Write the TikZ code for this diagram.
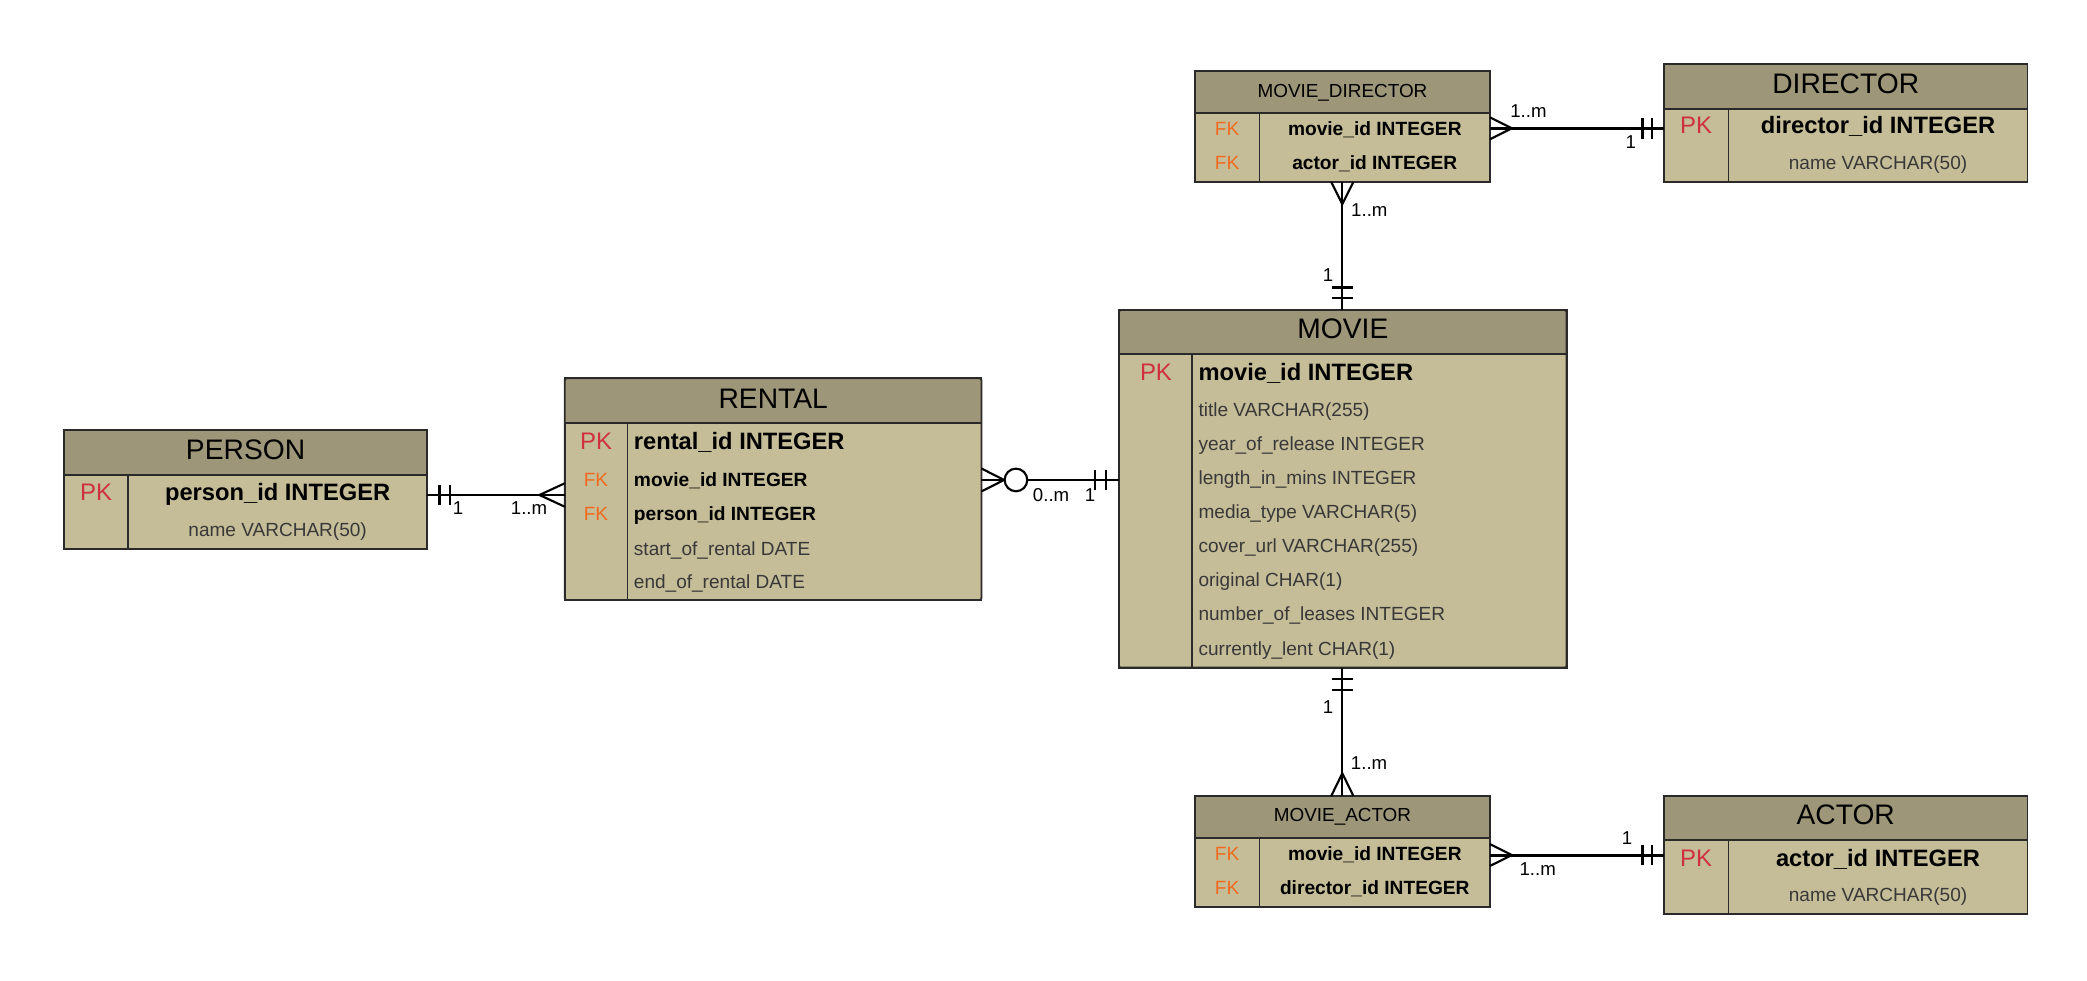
\documentclass[tikz,border=0pt]{standalone}
\usepackage{fontspec}
\setmainfont{Liberation Sans}
\usetikzlibrary{calc}
\definecolor{headc}{HTML}{9E9678}
\definecolor{bodyc}{HTML}{C5BC98}
\definecolor{bordc}{HTML}{2A2A2A}
\definecolor{pkc}{HTML}{D0303E}
\definecolor{fkc}{HTML}{F06A1E}
\definecolor{attc}{HTML}{383838}
\tikzset{
  tbl/.style={draw=bordc, fill=bodyc, line width=1.4pt, inner sep=0pt, outer sep=0pt, anchor=north west},
  bline/.style={draw=bordc, line width=1.4pt},
  ttl/.style={font=\fontsize{21.2}{25}\selectfont, text=black, anchor=base, inner sep=0pt},
  sttl/.style={font=\fontsize{14.2}{17}\selectfont, text=black, anchor=base, inner sep=0pt},
  pk/.style={font=\fontsize{18}{21}\selectfont, text=pkc, anchor=base, inner sep=0pt},
  fk/.style={font=\fontsize{14.4}{17}\selectfont, text=fkc, anchor=base, inner sep=0pt},
  pkrow/.style={font=\fontsize{17.8}{21}\selectfont\bfseries, text=black, inner sep=0pt},
  fkrow/.style={font=\fontsize{14.4}{17}\selectfont\bfseries, text=black, inner sep=0pt},
  att/.style={font=\fontsize{14.3}{17}\selectfont, text=attc, inner sep=0pt},
  card/.style={font=\fontsize{14}{17}\selectfont, text=black, anchor=base, inner sep=0pt},
  conn/.style={draw=black, line width=1.6pt},
  tconn/.style={draw=black, line width=2.3pt},
}
\begin{document}
\begin{tikzpicture}[x=1pt, y=-1pt]
\useasboundingbox[fill=white] (0,0) rectangle (1568,736.3);

% ---------- PERSON ----------
\node[tbl, minimum width=272.7pt, minimum height=89.5pt] (person) at (48.2,323) {};
\fill[headc] (person.north west) rectangle ($(person.north east)+(0,33.9)$);
\draw[bline] ($(person.north west)+(0,33.9)$) -- ($(person.north east)+(0,33.9)$);
\draw[bline] (96.3,356.9) -- (96.3,412.5);
\draw[bline] (person.north west) rectangle (person.south east);
\node[ttl] (personT) at (184.5,345.6) {PERSON};
\node[pk] (personK) at (72.2,375.8) {PK};
\node[pkrow, anchor=base] (personA1) at (208.6,375.8) {person\_id INTEGER};
\node[att, anchor=base] (personA2) at (208.6,403.3) {name VARCHAR(50)};

% ---------- RENTAL ----------
\node[tbl, minimum width=313.1pt, minimum height=166.6pt] (rental) at (424.3,284.2) {};
\fill[headc] (rental.north west) rectangle ($(rental.north east)+(0,33.8)$);
\draw[bline] ($(rental.north west)+(0,33.8)$) -- ($(rental.north east)+(0,33.8)$);
\draw[bline] (471.4,318) -- (471.4,450.8);
\draw[bline, rounded corners=1.5pt] (rental.north west) rectangle (rental.south east);
\node[ttl] (rentalT) at (580.9,306.8) {RENTAL};
\node[pk] (rentalK1) at (447.8,337.5) {PK};
\node[fk] (rentalK2) at (447.8,365.3) {FK};
\node[fk] (rentalK3) at (447.8,390.9) {FK};
\node[pkrow, anchor=base west] (rentalA1) at (476.1,337.5) {rental\_id INTEGER};
\node[fkrow, anchor=base west] (rentalA2) at (476.1,365.3) {movie\_id INTEGER};
\node[fkrow, anchor=base west] (rentalA3) at (476.1,390.9) {person\_id INTEGER};
\node[att, anchor=base west] (rentalA4) at (476.1,417.1) {start\_of\_rental DATE};
\node[att, anchor=base west] (rentalA5) at (476.1,442.4) {end\_of\_rental DATE};

% ---------- MOVIE ----------
\node[tbl, minimum width=336.3pt, minimum height=268.7pt] (movie) at (840.7,232.9) {};
\fill[headc] (movie.north west) rectangle ($(movie.north east)+(0,33.3)$);
\draw[bline] ($(movie.north west)+(0,33.3)$) -- ($(movie.north east)+(0,33.3)$);
\draw[bline] (895.6,266.2) -- (895.6,501.6);
\draw[bline, rounded corners=1.5pt] (movie.north west) rectangle (movie.south east);
\node[ttl] (movieT) at (1008.9,254.2) {MOVIE};
\node[pk] (movieK) at (868.5,285.6) {PK};
\node[pkrow, anchor=base west] (movieA1) at (900.3,285.6) {movie\_id INTEGER};
\node[att, anchor=base west] (movieA2) at (900.3,312.7) {title VARCHAR(255)};
\node[att, anchor=base west] (movieA3) at (900.3,338.3) {year\_of\_release INTEGER};
\node[att, anchor=base west] (movieA4) at (900.3,363.8) {length\_in\_mins INTEGER};
\node[att, anchor=base west] (movieA5) at (900.3,389.6) {media\_type VARCHAR(5)};
\node[att, anchor=base west] (movieA6) at (900.3,415.4) {cover\_url VARCHAR(255)};
\node[att, anchor=base west] (movieA7) at (900.3,441) {original CHAR(1)};
\node[att, anchor=base west] (movieA8) at (900.3,466.5) {number\_of\_leases INTEGER};
\node[att, anchor=base west] (movieA9) at (900.3,492.3) {currently\_lent CHAR(1)};

% ---------- MOVIE_DIRECTOR ----------
\node[tbl, minimum width=221.7pt, minimum height=83.6pt] (md) at (897.7,53.1) {};
\fill[headc] (md.north west) rectangle ($(md.north east)+(0,32)$);
\draw[bline] ($(md.north west)+(0,32)$) -- ($(md.north east)+(0,32)$);
\draw[bline] (946.3,85.1) -- (946.3,136.7);
\draw[bline] (md.north west) rectangle (md.south east);
\node[sttl] (mdT) at (1008.6,73.2) {MOVIE\_DIRECTOR};
\node[fk] (mdK1) at (922,102.1) {FK};
\node[fk] (mdK2) at (922,127.4) {FK};
\node[fkrow, anchor=base] (mdA1) at (1032.9,102.1) {movie\_id INTEGER};
\node[fkrow, anchor=base] (mdA2) at (1032.9,127.4) {actor\_id INTEGER};

% ---------- DIRECTOR ----------
\node[tbl, minimum width=273.3pt, minimum height=88.6pt] (director) at (1250,48.1) {};
\fill[headc] (director.north west) rectangle ($(director.north east)+(0,34)$);
\draw[bline] ($(director.north west)+(0,34)$) -- ($(director.north east)+(0,34)$);
\draw[bline] (1298.6,82.1) -- (1298.6,136.7);
\draw[bline] (director.north west) rectangle (director.south east);
\node[ttl] (directorT) at (1386.7,70.1) {DIRECTOR};
\node[pk] (directorK) at (1274.3,100.3) {PK};
\node[pkrow, anchor=base] (directorA1) at (1411,100.3) {director\_id INTEGER};
\node[att, anchor=base] (directorA2) at (1411,127.3) {name VARCHAR(50)};

% ---------- MOVIE_ACTOR ----------
\node[tbl, minimum width=221.7pt, minimum height=83.2pt] (ma) at (897.7,598) {};
\fill[headc] (ma.north west) rectangle ($(ma.north east)+(0,31.4)$);
\draw[bline] ($(ma.north west)+(0,31.4)$) -- ($(ma.north east)+(0,31.4)$);
\draw[bline] (946.3,629.4) -- (946.3,681.2);
\draw[bline] (ma.north west) rectangle (ma.south east);
\node[sttl] (maT) at (1008.6,616.9) {MOVIE\_ACTOR};
\node[fk] (maK1) at (922,646.3) {FK};
\node[fk] (maK2) at (922,672.1) {FK};
\node[fkrow, anchor=base] (maA1) at (1032.9,646.3) {movie\_id INTEGER};
\node[fkrow, anchor=base] (maA2) at (1032.9,672.1) {director\_id INTEGER};

% ---------- ACTOR ----------
\node[tbl, minimum width=273.3pt, minimum height=88.7pt] (actor) at (1250,598) {};
\fill[headc] (actor.north west) rectangle ($(actor.north east)+(0,33.1)$);
\draw[bline] ($(actor.north west)+(0,33.1)$) -- ($(actor.north east)+(0,33.1)$);
\draw[bline] (1298.6,631.1) -- (1298.6,686.7);
\draw[bline] (actor.north west) rectangle (actor.south east);
\node[ttl] (actorT) at (1386.7,619.3) {ACTOR};
\node[pk] (actorK) at (1274.3,651.3) {PK};
\node[pkrow, anchor=base] (actorA1) at (1411,651.3) {actor\_id INTEGER};
\node[att, anchor=base] (actorA2) at (1411,677.5) {name VARCHAR(50)};

% ---------- connector PERSON - RENTAL ----------
\coordinate (pr1) at (person.east |- 0,371.9);
\coordinate (pr2) at (rental.west |- 0,371.9);
\draw[conn] (pr1) -- (pr2);
\draw[conn] ($(pr1)+(9.3,-7.8)$) -- ++(0,15.6);
\draw[conn] ($(pr1)+(17,-7.8)$) -- ++(0,15.6);
\draw[conn] ($(pr2)+(0,-8.8)$) -- ++(-19,8.8) -- ++(19,8.8);
\node[card] (prL1) at (344.1,386.9) {1};
\node[card] (prL2) at (397.5,386.9) {1..m};

% ---------- connector RENTAL - MOVIE ----------
\coordinate (rm1) at (rental.east |- 0,360.6);
\coordinate (rm2) at (movie.west |- 0,360.6);
\draw[conn] ($(rm1)+(0,-8.6)$) -- ++(17,8.6) -- ++(-17,8.6);
\draw[conn] (rm1) -- ($(rm1)+(17,0)$);
\node[circle, draw=black, fill=white, line width=1.6pt, minimum size=17pt, inner sep=0pt] (rmC) at ($(rm1)+(25.9,0)$) {};
\draw[conn] (rmC.east) -- (rm2);
\draw[conn] ($(rm2)+(-17.7,-7.8)$) -- ++(0,15.6);
\draw[conn] ($(rm2)+(-10,-7.8)$) -- ++(0,15.6);
\node[card] (rmL1) at (789.7,376.9) {0..m};
\node[card] (rmL2) at (819,376.9) {1};

% ---------- connector MOVIE_DIRECTOR - DIRECTOR ----------
\coordinate (md1) at (md.east |- 0,96.4);
\coordinate (md2) at (director.west |- 0,96.4);
\draw[tconn] (md1) -- (md2);
\draw[conn] ($(md1)+(0,-8.2)$) -- ++(16.5,8.2) -- ++(-16.5,8.2);
\draw[conn] ($(md2)+(-16,-7.8)$) -- ++(0,15.6);
\draw[conn] ($(md2)+(-9,-7.8)$) -- ++(0,15.6);
\node[card] (mdL1) at (1148.3,88.1) {1..m};
\node[card] (mdL2) at (1225.3,111.4) {1};

% ---------- connector MOVIE_DIRECTOR - MOVIE ----------
\coordinate (mm1) at (md.south -| 1008.5,0);
\coordinate (mm2) at (movie.north -| 1008.5,0);
\draw[conn] (mm1) -- (mm2);
\draw[conn] ($(mm1)+(-8.3,0)$) -- ++(8.3,16.6) -- ++(8.3,-16.6);
\draw[conn] ($(mm2)+(-8,-16.9)$) -- ++(16,0);
\draw[conn] ($(mm2)+(-8,-8.9)$) -- ++(16,0);
\node[card] (mmL1) at (1028.8,162.8) {1..m};
\node[card] (mmL2) at (997.8,211.6) {1};

% ---------- connector MOVIE - MOVIE_ACTOR ----------
\coordinate (ma1) at (movie.south -| 1008.5,0);
\coordinate (ma2) at (ma.north -| 1008.5,0);
\draw[conn] (ma1) -- (ma2);
\draw[conn] ($(ma1)+(-8,8.5)$) -- ++(16,0);
\draw[conn] ($(ma1)+(-8,16.8)$) -- ++(16,0);
\draw[conn] ($(ma2)+(-8.3,0)$) -- ++(8.3,-17) -- ++(8.3,17);
\node[card] (maL1) at (997.8,536) {1};
\node[card] (maL2) at (1028.6,578.5) {1..m};

% ---------- connector MOVIE_ACTOR - ACTOR ----------
\coordinate (aa1) at (ma.east |- 0,642.4);
\coordinate (aa2) at (actor.west |- 0,642.4);
\draw[tconn] (aa1) -- (aa2);
\draw[conn] ($(aa1)+(0,-8.2)$) -- ++(16.5,8.2) -- ++(-16.5,8.2);
\draw[conn] ($(aa2)+(-16,-7.8)$) -- ++(0,15.6);
\draw[conn] ($(aa2)+(-9,-7.8)$) -- ++(0,15.6);
\node[card] (aaL1) at (1222.4,634.8) {1};
\node[card] (aaL2) at (1155.3,658.1) {1..m};
\end{tikzpicture}
\end{document}
